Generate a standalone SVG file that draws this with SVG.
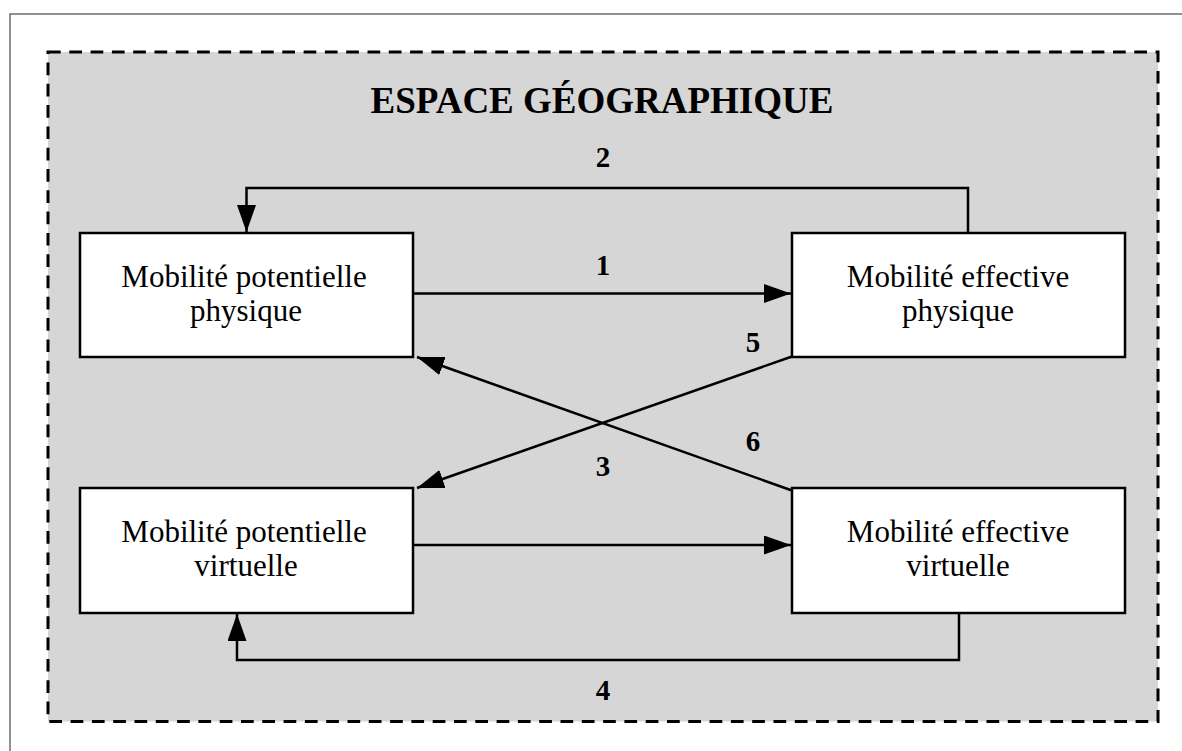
<svg xmlns="http://www.w3.org/2000/svg" width="1182" height="751" viewBox="0 0 1182 751">
  <style>
    .frame { fill: none; stroke: #6e6e6e; stroke-width: 1.5; }
    .space { fill: #d6d6d6; stroke: #000; stroke-width: 3; stroke-dasharray: 12.7 8.6; }
    .box { fill: #fff; stroke: #000; stroke-width: 2.5; }
    .label { font-family: "Liberation Serif", "Times New Roman", serif; font-size: 31px; fill: #000; text-anchor: middle; }
    .num { font-family: "Liberation Serif", "Times New Roman", serif; font-size: 29px; font-weight: bold; fill: #000; text-anchor: middle; }
    .title { font-family: "Liberation Serif", "Times New Roman", serif; font-size: 37px; font-weight: bold; fill: #000; text-anchor: middle; }
    .conn { fill: none; stroke: #000; stroke-width: 2.5; }
  </style>
  <defs>
    <marker id="arrow" markerUnits="userSpaceOnUse" markerWidth="28" markerHeight="20" refX="27" refY="9.5" orient="auto">
      <path d="M0,0 L27,9.5 L0,19 Z" fill="#000"/>
    </marker>
  </defs>
  <rect width="1182" height="751" fill="#fff"/>
  <path class="frame" d="M10,751 L10,14 L1182,14"/>
  <g id="espace">
    <rect class="space" x="48" y="52" width="1110" height="669.5"/>
    <text class="title" x="602" y="113">ESPACE GÉOGRAPHIQUE</text>
  </g>
  <g id="connectors">
    <line class="conn" x1="413" y1="293.5" x2="791" y2="293.5" marker-end="url(#arrow)"/>
    <polyline class="conn" points="968,233 968,188 246.5,188 246.5,232" marker-end="url(#arrow)"/>
    <line class="conn" x1="413" y1="545" x2="791" y2="545" marker-end="url(#arrow)"/>
    <polyline class="conn" points="959,613 959,660 237,660 237,614" marker-end="url(#arrow)"/>
    <line class="conn" x1="792" y1="356.5" x2="417" y2="488" marker-end="url(#arrow)"/>
    <line class="conn" x1="792" y1="490.5" x2="417" y2="357" marker-end="url(#arrow)"/>
    <text class="num" x="603" y="275">1</text>
    <text class="num" x="603" y="167">2</text>
    <text class="num" x="603" y="476">3</text>
    <text class="num" x="603" y="700">4</text>
    <text class="num" x="753" y="352">5</text>
    <text class="num" x="753" y="451">6</text>
  </g>
  <g id="mpp">
    <rect class="box" x="80" y="233" width="333" height="124"/>
    <text class="label" x="244" y="287">Mobilité potentielle</text>
    <text class="label" x="246" y="321">physique</text>
  </g>
  <g id="mep">
    <rect class="box" x="792" y="233" width="333" height="124"/>
    <text class="label" x="958" y="287">Mobilité effective</text>
    <text class="label" x="958" y="321">physique</text>
  </g>
  <g id="mpv">
    <rect class="box" x="80" y="488" width="333" height="125"/>
    <text class="label" x="244" y="542">Mobilité potentielle</text>
    <text class="label" x="246" y="576">virtuelle</text>
  </g>
  <g id="mev">
    <rect class="box" x="792" y="488" width="333" height="125"/>
    <text class="label" x="958" y="542">Mobilité effective</text>
    <text class="label" x="958" y="576">virtuelle</text>
  </g>
</svg>
